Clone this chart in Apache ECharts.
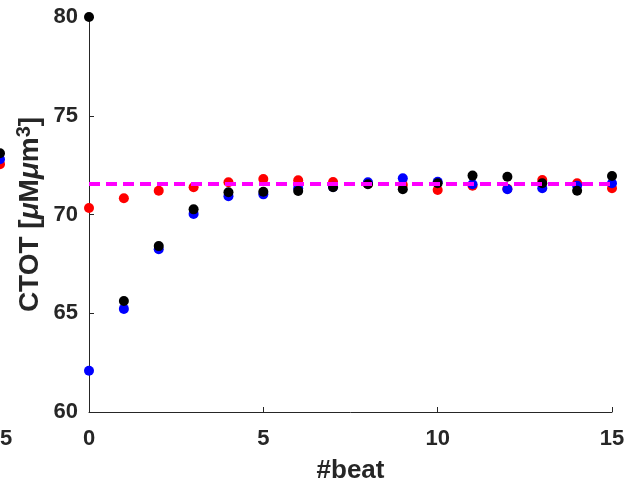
<!DOCTYPE html>
<html lang="en">
<head>
    <meta charset="UTF-8">
    <title>CTOT per beat</title>
    <script src="https://cdn.jsdelivr.net/npm/echarts@6.0.0/dist/echarts.min.js"></script>
    <style>
        html, body { margin: 0; padding: 0; background: #fff; }
    </style>
</head>
<body>
<div id="chart" style="height: 485px; width: 628px;"></div>
<script>
    const beats = [0, 1, 2, 3, 4, 5, 6, 7, 8, 9, 10, 11, 12, 13, 14, 15];
    const redVals = [70.33, 70.82, 71.2, 71.38, 71.63, 71.8, 71.73, 71.65, 71.55, 71.5, 71.24, 71.46, 71.3, 71.75, 71.58, 71.33];
    const blueVals = [62.09, 65.22, 68.24, 70.03, 70.92, 71.02, 71.33, 71.4, 71.63, 71.83, 71.66, 71.53, 71.28, 71.33, 71.46, 71.58];
    const blackVals = [80, 65.62, 68.4, 70.26, 71.13, 71.15, 71.19, 71.38, 71.53, 71.28, 71.58, 71.97, 71.91, 71.58, 71.2, 71.95];
    const refLevel = 71.55;

    // the neighbouring panel, cut off at the left edge (only its last beat shows)
    const prevBeat = 15;
    const prevRed = 72.55;
    const prevBlue = 72.8;
    const prevBlack = 73.1;

    const font = "'Liberation Sans', Arial, Helvetica, sans-serif";
    const ink = '#262626';

    const chart = echarts.init(document.querySelector('#chart'));

    const pairs = vals => beats.map((b, i) => [b, vals[i]]);

    const axisCommon = {
        axisLine: {lineStyle: {color: ink, width: 1}},
        axisTick: {inside: true, length: 5, lineStyle: {color: ink}},
        splitLine: {show: false},
        axisLabel: {color: ink, fontFamily: font, fontWeight: 'bold', fontSize: 22}
    };

    const dot = color => ({color: color, opacity: 1});

    chart.setOption({
        animation: false,
        grid: [
            {left: 89, right: 16, top: 17, bottom: 73, outerBoundsMode: 'none'},
            // strip for the cut-off panel: its x=15 sits on the page's left edge
            {left: 0, width: 89, top: 17, bottom: 73, outerBoundsMode: 'none'}
        ],
        xAxis: [
            Object.assign({}, axisCommon, {
                gridIndex: 0, type: 'value', min: 0, max: 15, interval: 5,
                axisLabel: Object.assign({}, axisCommon.axisLabel, {margin: 16}),
                name: '#beat', nameLocation: 'middle', nameGap: 46,
                nameTextStyle: {color: ink, fontFamily: font, fontWeight: 'bold', fontSize: 26}
            }),
            {
                gridIndex: 1, type: 'value', min: 15, max: 17.55, interval: 5,
                axisLine: {show: false}, axisTick: {show: false}, splitLine: {show: false},
                axisLabel: Object.assign({}, axisCommon.axisLabel, {margin: 16, showMaxLabel: false})
            }
        ],
        yAxis: [
            Object.assign({}, axisCommon, {
                gridIndex: 0, type: 'value', min: 60, max: 80, interval: 5,
                axisLabel: Object.assign({}, axisCommon.axisLabel, {margin: 11}),
                name: '{b|CTOT [}{i|μ}{b|M}{i|μ}{b|m}{s|3}{b|]}',
                nameLocation: 'middle', nameGap: 42, nameMoveOverlap: false,
                nameTextStyle: {
                    color: ink,
                    rich: {
                        b: {fontFamily: font, fontWeight: 'bold', fontSize: 28, color: ink},
                        i: {fontFamily: font, fontWeight: 'bold', fontStyle: 'italic', fontSize: 28, color: ink},
                        s: {fontFamily: font, fontWeight: 'bold', fontSize: 20, color: ink, padding: [0, 0, 13, 0]}
                    }
                }
            }),
            {gridIndex: 1, type: 'value', min: 60, max: 80, show: false, splitLine: {show: false}}
        ],
        series: [
            {type: 'scatter', xAxisIndex: 0, yAxisIndex: 0, symbolSize: 10,
                itemStyle: dot('#ff0000'), data: pairs(redVals), z: 2},
            {type: 'scatter', xAxisIndex: 0, yAxisIndex: 0, symbolSize: 10,
                itemStyle: dot('#0000ff'), data: pairs(blueVals), z: 3},
            {type: 'scatter', xAxisIndex: 0, yAxisIndex: 0, symbolSize: 10,
                itemStyle: dot('#000000'), data: pairs(blackVals), z: 4},
            {type: 'line', xAxisIndex: 0, yAxisIndex: 0, symbol: 'none', z: 5,
                lineStyle: {color: '#ff00ff', width: 4, type: [11, 6]},
                data: [[beats[0], refLevel], [beats[beats.length - 1], refLevel]]},
            {type: 'scatter', xAxisIndex: 1, yAxisIndex: 1, symbolSize: 10,
                itemStyle: dot('#ff0000'), data: [[prevBeat, prevRed]], z: 2},
            {type: 'scatter', xAxisIndex: 1, yAxisIndex: 1, symbolSize: 10,
                itemStyle: dot('#0000ff'), data: [[prevBeat, prevBlue]], z: 3},
            {type: 'scatter', xAxisIndex: 1, yAxisIndex: 1, symbolSize: 10,
                itemStyle: dot('#000000'), data: [[prevBeat, prevBlack]], z: 4}
        ]
    });
</script>
</body>
</html>
